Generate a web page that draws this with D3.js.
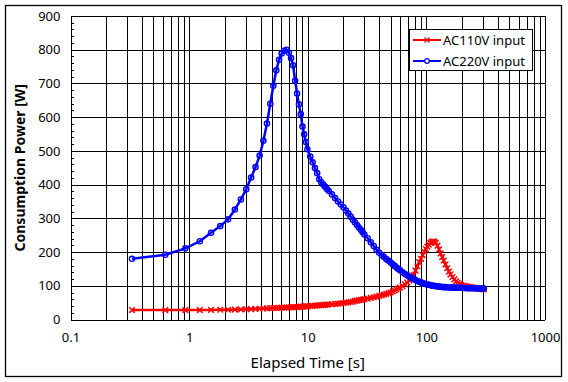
<!DOCTYPE html>
<html>
<head>
  <title>Consumption Power</title>
  <script src="https://d3js.org/d3.v7.min.js"></script>
  <style>
    body { margin: 0; background: #fff; }
    text { font-family: "Noto Sans", "Open Sans", sans-serif; fill: #000; }
  </style>
</head>
<body>
<div id="chart"></div>
<script>
// elapsed time [s], shared by both series
var seconds = [
  0.33, 0.63, 0.93, 1.23, 1.53, 1.83, 2.13, 2.43, 2.73, 3.03,
  3.33, 3.63, 3.93, 4.23, 4.53, 4.83, 5.13, 5.43, 5.73, 6.03,
  6.33, 6.63, 6.93, 7.23, 7.53, 7.83, 8.13, 8.43, 8.73, 9.03,
  9.33, 9.63, 9.93, 10.5, 11, 11.5, 12, 12.5, 13, 13.5,
  14, 14.5, 15, 16, 17, 18, 19, 20, 21, 22,
  23, 24, 25, 26, 27, 28, 29, 30, 32, 34,
  36, 38, 40, 42, 44, 46, 48, 50, 52, 54,
  56, 58, 60, 63, 66, 69, 72, 75, 78, 81,
  84, 87, 90, 93, 96, 99, 102, 105, 108, 111,
  114, 117, 120, 124, 128, 132, 136, 140, 145, 150,
  155, 160, 166, 172, 178, 184, 190, 197, 204, 211,
  218, 226, 234, 242, 250, 260, 270, 280, 290, 300,
  305
];

// AC110V input [W]
var ac110 = [
  28, 28, 28, 28, 28.5, 29, 29, 29.5, 30, 30.5,
  31, 31.5, 32, 32.5, 33, 33.5, 34, 34, 34.5, 35,
  35, 35.5, 36, 36, 36.5, 37, 37, 37.5, 38, 38,
  38.5, 39, 39, 40, 40.5, 41, 41.5, 42, 42.5, 43,
  43.5, 44, 44.5, 45.5, 46, 47, 48, 49, 50, 51,
  52, 53, 55, 56, 57, 58, 59, 60.5, 62, 64,
  66, 68, 70, 72, 74, 76, 78, 80, 83, 86,
  89, 92, 95, 99, 104, 110, 116, 123, 132, 145,
  158, 170, 180, 191, 201, 209, 216, 222, 227, 230,
  232, 230, 227, 219, 208, 196, 185, 175, 163, 152,
  142, 134, 126, 119, 113, 109, 105, 102, 100, 99,
  98, 97, 96, 95, 95, 94, 93, 92, 91, 90,
  89
];

// AC220V input [W]
var ac220 = [
  180, 192, 211, 232, 257, 277, 297, 326, 356, 386,
  421, 452, 486, 530, 581, 640, 693, 739, 770, 789,
  797, 800, 791, 775, 754, 708, 670, 638, 609, 572,
  549, 526, 505, 483, 466, 449, 434, 416, 407, 400,
  394, 387, 382, 371, 360, 350, 341, 333, 323, 314,
  305, 296, 288, 280, 273, 266, 259, 252, 241, 229,
  218, 207, 198, 191, 185, 179, 174, 169, 164, 159,
  154, 150, 146, 140, 135, 131, 127, 123, 120, 117,
  114, 112, 110, 108, 106, 105, 104, 103, 102, 101,
  100, 99.5, 99, 98, 97.5, 97, 96.5, 96, 96, 95.5,
  95, 95, 94.5, 94.5, 94, 94, 94, 94, 93.5, 93.5,
  93, 93, 93, 92.5, 92.5, 92, 92, 92, 92, 92,
  92
];

var yTicks = [0, 100, 200, 300, 400, 500, 600, 700, 800, 900];
var xTicks = [0.1, 1, 10, 100, 1000];
var xTickLabels = ["0.1", "1", "10", "100", "1000"];
var seriesNames = ["AC110V input", "AC220V input"];

var W = 568, H = 382;
var plotL = 70.5, plotR = 545, plotT = 16, plotB = 319.5;

var svg = d3.select("#chart").append("svg")
  .attr("width", W)
  .attr("height", H);

// outer frame
svg.append("rect")
  .attr("x", 5.5).attr("y", 5.5)
  .attr("width", 556).attr("height", 371)
  .attr("fill", "#fff")
  .attr("stroke", "#000")
  .attr("stroke-width", 1.3);

var x = d3.scaleLog().domain([0.1, 1000]).range([plotL, plotR]);
var y = d3.scaleLinear().domain([0, 900]).range([plotB, plotT]);

// grid
var grid = svg.append("g").attr("stroke", "#000").attr("stroke-width", 1).attr("shape-rendering", "crispEdges");
grid.selectAll(".vg")
  .data(x.ticks())
  .enter().append("line")
  .attr("x1", function(d) { return Math.round(x(d)) + 0.5; })
  .attr("x2", function(d) { return Math.round(x(d)) + 0.5; })
  .attr("y1", plotT).attr("y2", plotB);
grid.selectAll(".hg")
  .data(yTicks)
  .enter().append("line")
  .attr("x1", plotL).attr("x2", plotR)
  .attr("y1", function(d) { return Math.round(y(d)) + 0.5; })
  .attr("y2", function(d) { return Math.round(y(d)) + 0.5; });

// minor ticks on the left axis
grid.selectAll(".mt")
  .data(d3.range(20, 900, 20).filter(function(d) { return d % 100 != 0; }))
  .enter().append("line")
  .attr("x1", plotL).attr("x2", plotL + 3)
  .attr("y1", function(d) { return Math.round(y(d)) + 0.5; })
  .attr("y2", function(d) { return Math.round(y(d)) + 0.5; });

// y axis labels
var yAxis = svg.append("g")
  .attr("transform", "translate(" + plotL + ",0)")
  .call(d3.axisLeft(y).tickValues(yTicks).tickSize(0).tickPadding(10));
yAxis.select(".domain").remove();
yAxis.selectAll("text")
  .style("font-family", "'Noto Sans', sans-serif")
  .style("font-size", "13px")
  .style("fill", "#000");

// x axis labels
var xAxis = svg.append("g")
  .attr("transform", "translate(0," + plotB + ")")
  .call(d3.axisBottom(x).tickValues(xTicks)
    .tickFormat(function(d, i) { return xTickLabels[i]; })
    .tickSize(0).tickPadding(13));
xAxis.select(".domain").remove();
xAxis.selectAll("text")
  .style("font-family", "'Noto Sans', sans-serif")
  .style("font-size", "13px")
  .style("fill", "#000");

// axis titles
svg.append("text")
  .attr("transform", "translate(25," + ((plotT + plotB) / 2) + ") rotate(-90)")
  .attr("text-anchor", "middle")
  .style("font-size", "14px")
  .style("font-weight", "bold")
  .text("Consumption Power [W]");

svg.append("text")
  .attr("x", (plotL + plotR) / 2)
  .attr("y", 368)
  .attr("text-anchor", "middle")
  .style("font-size", "15px")
  .text("Elapsed Time [s]");

// series
var line = d3.line()
  .x(function(d) { return x(d[0]); })
  .y(function(d) { return y(d[1]); });

var red = d3.zip(seconds, ac110);
var blue = d3.zip(seconds, ac220);
var cross = "M-2.8,-2.8L2.8,2.8M-2.8,2.8L2.8,-2.8";

svg.append("path")
  .datum(red)
  .attr("fill", "none")
  .attr("stroke", "#ff0000")
  .attr("stroke-width", 2.5)
  .attr("d", line);
svg.append("g").selectAll("path")
  .data(red)
  .enter().append("path")
  .attr("transform", function(d) { return "translate(" + x(d[0]) + "," + y(d[1]) + ")"; })
  .attr("d", cross)
  .attr("stroke", "#ff0000")
  .attr("stroke-width", 1.5);

svg.append("path")
  .datum(blue)
  .attr("fill", "none")
  .attr("stroke", "#0000ff")
  .attr("stroke-width", 2.5)
  .attr("d", line);
svg.append("g").selectAll("circle")
  .data(blue)
  .enter().append("circle")
  .attr("cx", function(d) { return x(d[0]); })
  .attr("cy", function(d) { return y(d[1]); })
  .attr("r", 2.6)
  .attr("fill", "none")
  .attr("stroke", "#0000ff")
  .attr("stroke-width", 1.4);

// legend
var lg = svg.append("g");
lg.append("rect")
  .attr("x", 409.5).attr("y", 29.5)
  .attr("width", 123).attr("height", 41)
  .attr("fill", "#fff")
  .attr("stroke", "#000")
  .attr("stroke-width", 1);

var colors = ["#ff0000", "#0000ff"];
seriesNames.forEach(function(name, i) {
  var ly = 40 + i * 21;
  lg.append("line")
    .attr("x1", 413).attr("x2", 441)
    .attr("y1", ly).attr("y2", ly)
    .attr("stroke", colors[i])
    .attr("stroke-width", 2);
  if (i == 0) {
    lg.append("path")
      .attr("transform", "translate(427," + ly + ")")
      .attr("d", "M-2.5,-2.5L2.5,2.5M-2.5,2.5L2.5,-2.5")
      .attr("stroke", colors[i])
      .attr("stroke-width", 1.3);
  } else {
    lg.append("circle")
      .attr("cx", 427).attr("cy", ly).attr("r", 2.3)
      .attr("fill", "#fff")
      .attr("stroke", colors[i])
      .attr("stroke-width", 1.2);
  }
  lg.append("text")
    .attr("x", 443)
    .attr("y", ly + 4.5)
    .style("font-size", "13px")
    .text(name);
});
</script>
</body>
</html>
